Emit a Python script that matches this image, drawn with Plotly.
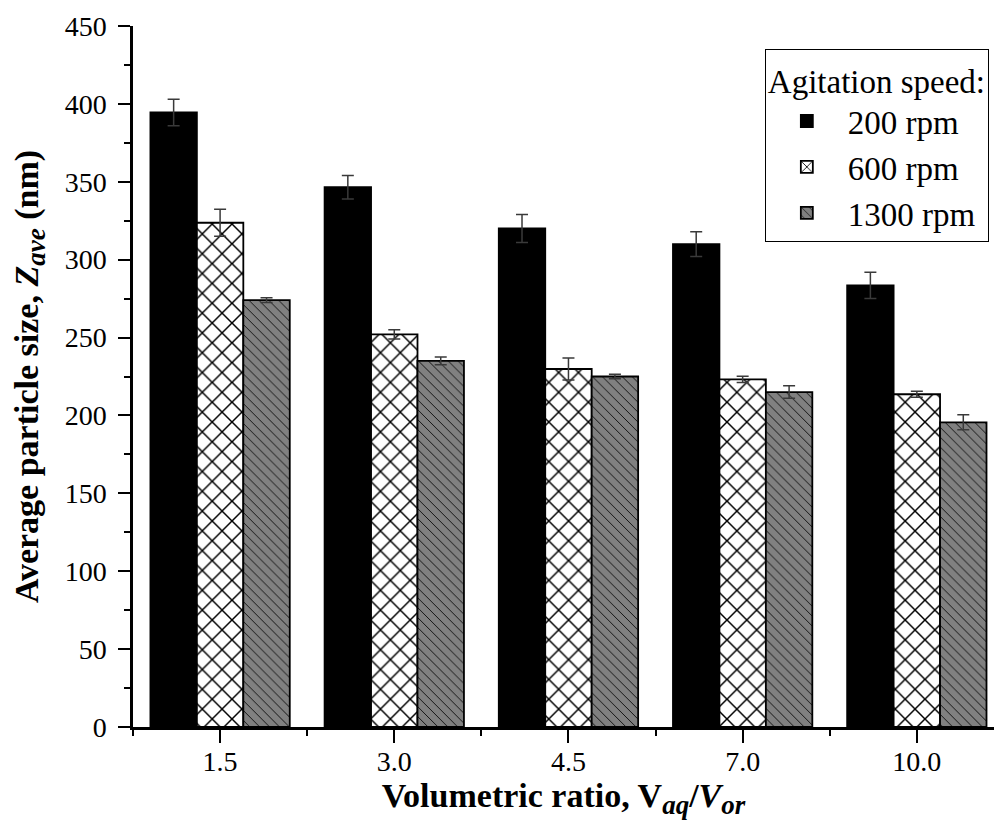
import plotly.graph_objects as go

# ---- data ----
ratios = ["1.5", "3.0", "4.5", "7.0", "10.0"]
speeds = ["200 rpm", "600 rpm", "1300 rpm"]

size_200 = [394.5, 346.5, 320.0, 310.0, 283.5]
err_200 = [8.5, 7.5, 9.0, 8.0, 8.5]
size_600 = [323.7, 252.0, 229.8, 223.2, 213.6]
err_600 = [8.6, 3.0, 7.0, 2.0, 2.0]
size_1300 = [274.0, 235.0, 225.0, 215.0, 195.6]
err_1300 = [1.5, 2.5, 1.5, 4.0, 4.8]

y_ticks = [0, 50, 100, 150, 200, 250, 300, 350, 400, 450]

pos = list(range(len(ratios)))
FONT = "Liberation Serif"

def f(size):
    return dict(family=FONT, size=size, color="black")

styles = [
    dict(color="black", pattern=dict(shape="")),
    dict(color="white", pattern=dict(shape="x", fgcolor="black", bgcolor="white",
                                     size=14, solidity=0.2, fillmode="replace")),
    dict(color="#808080", pattern=dict(shape="\\", fgcolor="black", bgcolor="#808080",
                                       size=7, solidity=0.12, fillmode="replace")),
]
values = [size_200, size_600, size_1300]
errors = [err_200, err_600, err_1300]

fig = go.Figure()
for name, vals, errs, st in zip(speeds, values, errors, styles):
    fig.add_trace(go.Bar(
        x=pos, y=vals, name=name,
        marker=dict(color=st["color"], pattern=st["pattern"],
                    line=dict(color="black", width=1.8)),
        error_y=dict(type="data", array=errs, visible=True,
                     color="#3a3a3a", thickness=1.5, width=6),
    ))

xr = [-0.5, 4.443]
common_x = dict(range=xr, tickmode="array", tickvals=pos, showgrid=False,
                zeroline=False, linecolor="black", linewidth=2.5,
                tickcolor="black", tickwidth=2)

sub = '<span style="font-size:27px">{}</span>'
x_title = ("<b>Volumetric ratio, V<sub>" + sub.format("<i>aq</i>") + "</sub>/<i>V</i><sub>"
           + sub.format("<i>or</i>") + "</sub></b>")
y_title = ("<b>Average particle size, <i>Z</i><sub>" + sub.format("<i>ave</i>")
           + "</sub> (nm)</b>")

fig.update_layout(
    width=994, height=831,
    margin=dict(l=133, r=0, t=26, b=104),
    paper_bgcolor="white", plot_bgcolor="white",
    barmode="group", bargap=0.2, bargroupgap=0,
    font=f(28),
    xaxis=dict(**common_x, ticktext=ratios, ticks="outside", ticklen=13,
               showline=True, ticklabelstandoff=-5,
               minor=dict(tickmode="linear", tick0=-0.5, dtick=1, ticks="outside",
                          ticklen=6, tickwidth=2, tickcolor="black"),
               tickfont=f(28),
               title=dict(text=x_title, font=f(34), standoff=7)),
    yaxis=dict(range=[0, 450], tickmode="array", tickvals=y_ticks,
               ticks="outside", ticklen=12, tickwidth=2, tickcolor="black",
               showline=True, linecolor="black", linewidth=2.5,
               showgrid=False, zeroline=False, ticklabelstandoff=6,
               minor=dict(tickmode="linear", tick0=0, dtick=25, ticks="outside",
                          ticklen=6, tickwidth=2, tickcolor="black"),
               tickfont=f(28),
               title=dict(text=y_title, font=f(34), standoff=16)),
    xaxis2=dict(**common_x, overlaying="x", side="top", anchor="y",
                ticks="inside", ticklen=13, showticklabels=False, showline=True,
                minor=dict(tickmode="linear", tick0=-0.5, dtick=1, ticks="inside",
                           ticklen=6, tickwidth=2, tickcolor="black")),
    yaxis2=dict(range=[0, 450], tickmode="array", tickvals=y_ticks,
                overlaying="y", side="right", anchor="x",
                ticks="inside", ticklen=4, tickwidth=2, tickcolor="black",
                showticklabels=False, showline=False, showgrid=False, zeroline=False),
    legend=dict(x=0.994, y=0.967, xanchor="right", yanchor="top",
                bordercolor="black", borderwidth=1, bgcolor="white",
                font=f(33), itemwidth=72,
                title=dict(text="Agitation speed:", font=f(33)),
                tracegroupgap=0),
)

fig.write_html("out.html")
